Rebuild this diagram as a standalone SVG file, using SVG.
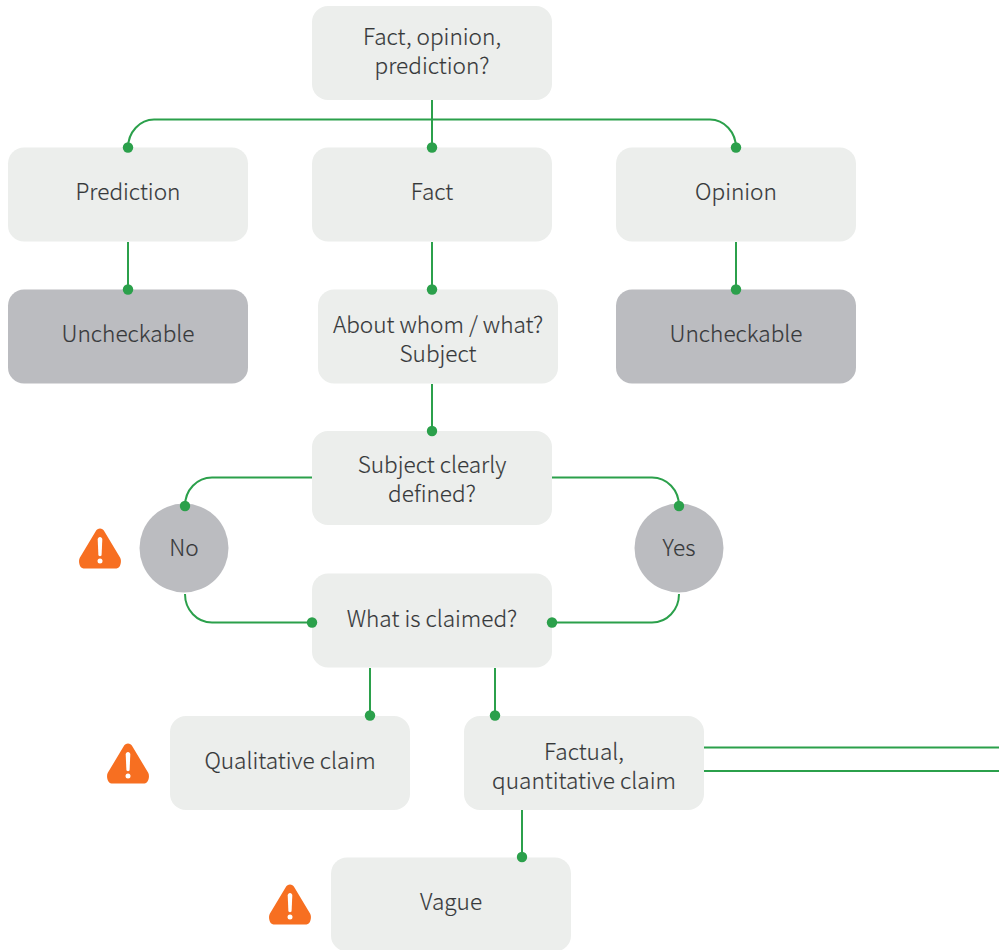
<svg xmlns="http://www.w3.org/2000/svg" width="1005" height="950" viewBox="0 0 1005 950">
<style>
.n{fill:#eceeec}.d{fill:#bbbcc0}
text{font-family:"Noto Sans CJK SC","Noto Sans",sans-serif;font-size:22.6px;font-weight:300;fill:#36383a;stroke:#36383a;stroke-width:.15;text-anchor:middle}
.c path{fill:none;stroke:#2ba04b;stroke-width:2}
.c circle{fill:#2ba04b}
.w{fill:#f76f21}.x{fill:#fff}
</style>
<defs>
<g id="warn">
<path class="w" d="M0-20.500C1.800-20.500 3.300-19.500 4.300-17.800L20.200 8.800C22 12 20.500 19.500 16.500 19.500L-16.500 19.500C-20.500 19.500-22 12-20.200 8.800L-4.300-17.800C-3.300-19.500-1.800-20.500 0-20.500Z"/>
<path class="x" d="M-2.300-9.500C-2.300-13 2.300-13 2.300-9.500L1.600 6C1.500 7.500-1.500 7.500-1.600 6Z"/>
<circle class="x" cx="0" cy="12" r="2.500"/>
</g>
</defs>
<g id="n-root"><rect class="n" x="312" y="6" width="240" height="94" rx="16"/><text x="432" y="45">Fact, opinion,</text><text x="432" y="74">prediction?</text></g>
<g id="n-prediction"><rect class="n" x="8" y="147.500" width="240" height="94" rx="16"/><text x="128" y="200">Prediction</text></g>
<g id="n-fact"><rect class="n" x="312" y="147.500" width="240" height="94" rx="16"/><text x="432" y="200">Fact</text></g>
<g id="n-opinion"><rect class="n" x="616" y="147.500" width="240" height="94" rx="16"/><text x="736" y="200">Opinion</text></g>
<g id="n-unch1"><rect class="d" x="8" y="289.500" width="240" height="94" rx="16"/><text x="128" y="342">Uncheckable</text></g>
<g id="n-about"><rect class="n" x="318" y="289.500" width="240" height="94" rx="16"/><text x="438" y="333">About whom / what?</text><text x="438" y="362">Subject</text></g>
<g id="n-unch2"><rect class="d" x="616" y="289.500" width="240" height="94" rx="16"/><text x="736" y="342">Uncheckable</text></g>
<g id="n-subject"><rect class="n" x="312" y="431" width="240" height="94" rx="16"/><text x="432" y="473">Subject clearly</text><text x="432" y="502">defined?</text></g>
<g id="n-no"><circle class="d" cx="184" cy="548" r="44.500"/><text x="184" y="556">No</text></g>
<g id="n-yes"><circle class="d" cx="679" cy="548" r="44.500"/><text x="679" y="556">Yes</text></g>
<g id="n-claimed"><rect class="n" x="312" y="573.500" width="240" height="94" rx="16"/><text x="432" y="627">What is claimed?</text></g>
<g id="n-qual"><rect class="n" x="170" y="716" width="240" height="94" rx="16"/><text x="290" y="769">Qualitative claim</text></g>
<g id="n-factual"><rect class="n" x="464" y="716" width="240" height="94" rx="16"/><text x="584" y="760">Factual,</text><text x="584" y="789">quantitative claim</text></g>
<g id="n-vague"><rect class="n" x="331" y="857.500" width="240" height="94" rx="16"/><text x="451" y="910">Vague</text></g>
<g id="warn1"><use href="#warn" x="100" y="549"/></g>
<g id="warn2"><use href="#warn" x="128" y="764"/></g>
<g id="warn3"><use href="#warn" x="290" y="905"/></g>
<g id="connectors" class="c">
<path d="M432 100V148"/>
<path d="M128 148C128 132 140 119.500 154 119.500H710C724 119.500 736 132 736 148"/>
<path d="M128 242V290M432 242V290M736 242V290M432 384V431"/>
<path d="M312 477.500H212C197 477.500 185 490 185 506"/>
<path d="M552 477.500H652C667 477.500 679 490 679 506"/>
<path d="M185 594C185 610 197 622.500 212 622.500H312"/>
<path d="M679 594C679 610 667 622.500 652 622.500H552"/>
<path d="M370 668V716M495 668V716M522 810V858"/>
<path d="M704 747.500H999M704 771H999"/>
<circle cx="128" cy="147.500" r="5.200"/><circle cx="432" cy="147.500" r="5.200"/><circle cx="736" cy="147.500" r="5.200"/>
<circle cx="128" cy="289.500" r="5.200"/><circle cx="432" cy="289.500" r="5.200"/><circle cx="736" cy="289.500" r="5.200"/>
<circle cx="432" cy="431" r="5.200"/><circle cx="185" cy="506" r="5.200"/><circle cx="679" cy="506" r="5.200"/>
<circle cx="312" cy="622.500" r="5.200"/><circle cx="552" cy="622.500" r="5.200"/>
<circle cx="370" cy="715.500" r="5.200"/><circle cx="495" cy="715.500" r="5.200"/><circle cx="522" cy="857" r="5.200"/>
</g>
</svg>
